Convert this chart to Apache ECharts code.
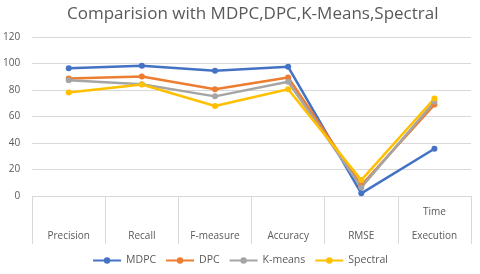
<!DOCTYPE html>
<html><head><meta charset="utf-8">
<script src="https://cdn.jsdelivr.net/npm/echarts@6/dist/echarts.min.js"></script>
<style>html,body{margin:0;padding:0;background:#fff}#c{width:480px;height:274px}</style>
</head><body><div id="c"></div>
<script>
var categories = ['Precision', 'Recall', 'F-measure', 'Accuracy', 'RMSE', 'Time\nExecution'];
var seriesNames = ['MDPC', 'DPC', 'K-means', 'Spectral'];
var mdpc = [96.4, 98.3, 94.5, 97.5, 2, 35.7];
var dpc = [88.6, 90.2, 80.5, 89.4, 8, 69];
var kmeans = [87.3, 84.4, 75.2, 86.2, 6.5, 71.2];
var spectral = [78.2, 84.2, 67.9, 80.5, 12, 73.6];
var yTicks = [0, 20, 40, 60, 80, 100, 120];
var colors = ['#4472C4', '#ED7D31', '#A5A5A5', '#FFC000'];
var values = [mdpc, dpc, kmeans, spectral];

var chart = echarts.init(document.getElementById('c'), null, {renderer: 'canvas'});
var font = 'Open Sans';
chart.setOption({
  animation: false,
  title: {
    text: 'Comparision with MDPC,DPC,K-Means,Spectral',
    left: 62, top: 1,
    textStyle: {fontFamily: font, fontSize: 17, fontWeight: 'normal', color: '#595959'}
  },
  legend: {
    data: seriesNames,
    bottom: 3,
    itemWidth: 28, itemHeight: 8, itemGap: 9,
    textStyle: {fontFamily: font, fontSize: 10.5, color: '#595959'}
  },
  grid: {left: 32, right: 9, top: 37, bottom: 78},
  xAxis: {
    type: 'category',
    data: categories,
    boundaryGap: true,
    axisLine: {lineStyle: {color: '#D9D9D9'}},
    axisTick: {show: true, length: 48, lineStyle: {color: '#D9D9D9'}},
    axisLabel: {fontFamily: font, fontSize: 10, color: '#595959', margin: 52, verticalAlign: 'bottom', lineHeight: 24, interval: 0}
  },
  yAxis: {
    type: 'value',
    min: yTicks[0], max: yTicks[yTicks.length - 1], interval: 20,
    axisLine: {show: false},
    axisTick: {show: false},
    splitLine: {lineStyle: {color: '#D9D9D9'}},
    axisLabel: {fontFamily: font, fontSize: 10, color: '#595959', margin: 12}
  },
  series: seriesNames.map(function (n, i) {
    return {
      name: n, type: 'line', data: values[i],
      symbol: 'circle', symbolSize: 6,
      lineStyle: {width: 2.5, color: colors[i]},
      itemStyle: {color: colors[i]}
    };
  })
});
</script></body></html>
